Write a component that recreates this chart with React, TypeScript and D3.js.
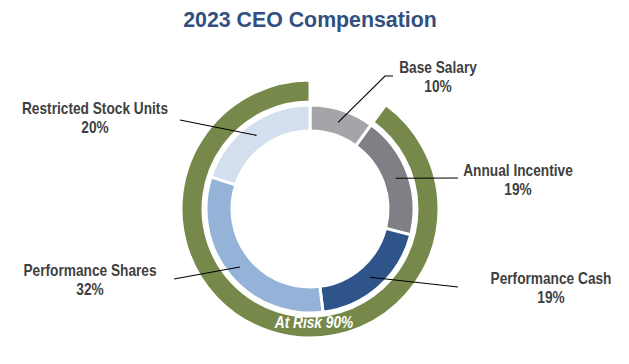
import * as d3 from "d3";
import { useEffect, useRef } from "react";

// components of pay, clockwise from 12 o'clock
const categories = ["Base Salary", "Annual Incentive", "Performance Cash", "Performance Shares", "Restricted Stock Units"];
const values = [10, 19, 19, 32, 20];
const colors = ["#a5a5a9", "#7f7f85", "#2f5489", "#95b3d8", "#d3dfee"];

// outer ring: fixed vs at risk
const riskGroups = ["Fixed", "At Risk"];
const riskValues = [10, 90];

const title = "2023 CEO Compensation";

// label anchor (text centre) and where the leader line stops
const labelLayout = [
  { tx: 438, ty: 73, path: [[385, 76], [393, 76]] },
  { tx: 518, ty: 176, path: [[458, 178]] },
  { tx: 551, ty: 284, path: [[458, 287]] },
  { tx: 90, ty: 276, path: [[174, 279]] },
  { tx: 95, ty: 114, path: [[180, 120]] },
];

function App() {
  const svgRef = useRef(null);
  const width = 629;
  const height = 364;

  useEffect(() => {
    const svg = d3.select(svgRef.current);
    svg.selectAll("*").remove();

    const cx = 310, cy = 209;
    const labelFont = "'Liberation Sans', Arial, sans-serif";
    const narrow = 0.83; // no Arial Narrow here, so squeeze the regular face

    svg.append("g")
      .attr("transform", "translate(310,27) scale(0.97,1)")
      .append("text")
      .attr("text-anchor", "middle")
      .style("font-family", "'Liberation Sans', Arial, sans-serif")
      .style("font-weight", "bold")
      .style("font-size", "22px")
      .style("fill", "#31507f")
      .text(title);

    const g = svg.append("g").attr("transform", `translate(${cx},${cy})`);

    const pie = d3.pie().sort(null).value(d => d);

    // green "at risk" ring
    const outerArc = d3.arc().innerRadius(107).outerRadius(129);
    g.selectAll("path.risk")
      .data(pie(riskValues))
      .enter().append("path")
      .attr("class", "risk")
      .attr("d", outerArc)
      .attr("fill", (d, i) => i === 1 ? "#76884a" : "none")
      .attr("stroke", "#fff")
      .attr("stroke-width", 3);

    // pay mix ring
    const innerArc = d3.arc().innerRadius(78).outerRadius(104);
    const slices = pie(values);
    g.selectAll("path.slice")
      .data(slices)
      .enter().append("path")
      .attr("class", "slice")
      .attr("d", innerArc)
      .attr("fill", (d, i) => colors[i])
      .attr("stroke", "#fff")
      .attr("stroke-width", 3);

    // leader lines from the middle of each slice
    const mid = d3.arc().innerRadius(91).outerRadius(91);
    const line = d3.line();
    slices.forEach((s, i) => {
      const [mx, my] = mid.centroid(s);
      const pts = [[mx + cx, my + cy], ...labelLayout[i].path];
      svg.append("path")
        .attr("d", line(pts))
        .attr("fill", "none")
        .attr("stroke", "#000")
        .attr("stroke-width", 1.1);
    });

    // labels
    categories.forEach((c, i) => {
      const l = labelLayout[i];
      const lg = svg.append("g").attr("transform", `translate(${l.tx},${l.ty}) scale(${narrow},1)`);
      const t = lg.append("text")
        .attr("text-anchor", "middle")
        .style("font-family", labelFont)
        .style("font-weight", "bold")
        .style("font-size", "16.5px")
        .style("fill", "#3f3f3f");
      t.append("tspan").attr("x", 0).attr("y", 0).text(c);
      t.append("tspan").attr("x", 0).attr("y", 19).text(`${values[i]}%`);
    });

    svg.append("g")
      .attr("transform", `translate(314,328) scale(${narrow},1)`)
      .append("text")
      .attr("text-anchor", "middle")
      .style("font-family", labelFont)
      .style("font-weight", "bold")
      .style("font-style", "italic")
      .style("font-size", "16.5px")
      .style("fill", "#fff")
      .text(`${riskGroups[1]} ${riskValues[1]}%`);
  }, []);

  return (
    <svg
      ref={svgRef}
      width={width}
      height={height}
      style={{ position: "absolute", left: 0, top: 0, background: "#fff" }}
    />
  );
}

export default App;
